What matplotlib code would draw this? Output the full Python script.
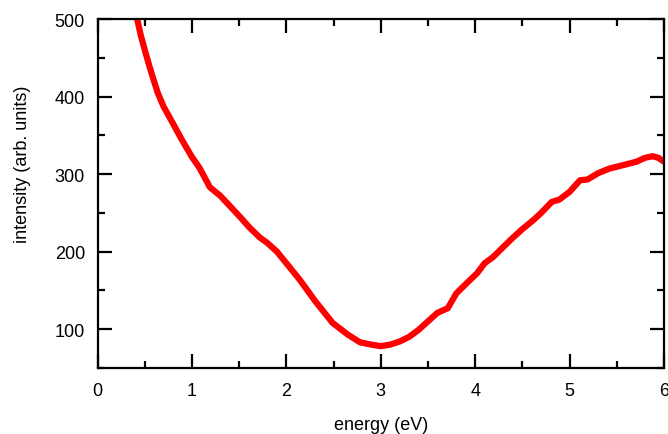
import matplotlib
matplotlib.use('Agg')
import matplotlib.pyplot as plt
from matplotlib.ticker import MultipleLocator

plt.rcParams['font.family'] = ['Liberation Sans', 'DejaVu Sans']

energy = [0.42, 0.46, 0.51, 0.55, 0.59, 0.64, 0.70, 0.80, 0.89, 1.00, 1.08,
          1.19, 1.30, 1.40, 1.50, 1.61, 1.72, 1.80, 1.90, 2.00, 2.14, 2.30,
          2.49, 2.65, 2.78, 2.90, 3.00, 3.10, 3.20, 3.30, 3.40, 3.50, 3.60,
          3.71, 3.80, 3.90, 4.02, 4.10, 4.19, 4.29, 4.40, 4.50, 4.61, 4.70,
          4.81, 4.89, 5.00, 5.11, 5.19, 5.30, 5.42, 5.55, 5.71, 5.80, 5.88,
          5.94, 6.00]
intensity = [500, 478, 456, 439, 423, 404, 387, 365, 345, 322, 308,
             283, 272, 259, 246, 231, 218, 211, 200, 185, 164, 137,
             108, 93, 83, 80, 78, 80, 84, 90, 99, 110, 121,
             127, 146, 158, 172, 185, 193, 205, 218, 229, 240, 250,
             264, 267, 277, 292, 293, 301, 307, 311, 316, 321, 323,
             321, 316]

fig = plt.figure(figsize=(6.68, 4.35), dpi=100)
ax = fig.add_axes([0.146, 0.152, 0.848, 0.802])

ax.plot(energy, intensity, color='#ff0000', lw=4.5,
        solid_joinstyle='round', solid_capstyle='round')

ax.set_xlim(0, 6)
ax.set_ylim(50, 500)
ax.xaxis.set_major_locator(MultipleLocator(1))
ax.xaxis.set_minor_locator(MultipleLocator(0.5))
ax.yaxis.set_major_locator(MultipleLocator(100))
ax.yaxis.set_minor_locator(MultipleLocator(50))

for s in ax.spines.values():
    s.set_linewidth(1.6)
ax.tick_params(which='both', direction='in', top=True, right=True, width=1.6, labelsize=13)
ax.tick_params(axis='x', which='both', pad=10.5)
ax.tick_params(axis='y', which='both', pad=9)
ax.tick_params(which='major', length=10)
ax.tick_params(which='minor', length=5)

ax.set_xlabel('energy (eV)', fontsize=13)
ax.set_ylabel('intensity (arb. units)', fontsize=13)
ax.xaxis.set_label_coords(0.5, -0.137)
ax.yaxis.set_label_coords(-0.117, 0.585)

plt.savefig('out.png', dpi=100)
